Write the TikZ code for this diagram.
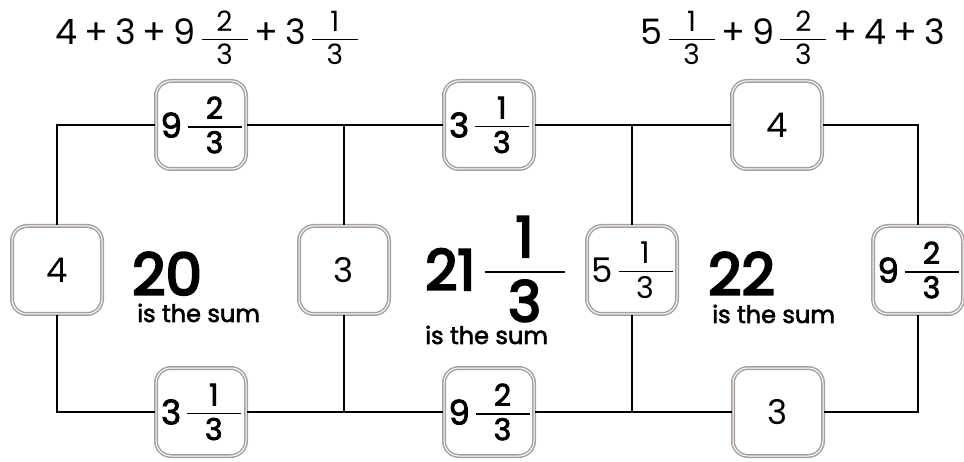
\documentclass[tikz,border=0pt]{standalone}
\usepackage{fontspec}
\setmainfont{Poppins}
\newfontfamily\medfont[FakeBold=2.4]{Poppins}
\newfontfamily\heavyfont[FakeBold=4]{Poppins}
\usepackage{tikz}
\usetikzlibrary{positioning}
\definecolor{frame}{RGB}{168,158,158}

% fraction part: [bar height] bar width, numerator, denominator
\newcommand\fr[4][0.32em]{%
  \makebox[#2]{\raisebox{\dimexpr#1+0.27em}{#3}}\kern-#2%
  \makebox[#2]{\raisebox{\dimexpr#1-0.88em}{#4}}\kern-#2%
  \rule[\dimexpr#1-0.8pt]{#2}{1.6pt}}
\newcommand\pl{\hspace{7pt}+\hspace{7pt}}

\tikzset{
  numbox/.style={draw=frame, double=white, double distance=1pt, line width=1.5pt,
    fill=white, rounded corners=15pt, minimum width=90pt, minimum height=88pt,
    inner sep=0pt, font=\fontsize{34}{36}\selectfont},
  wire/.style={line width=1.5pt},
  sumtxt/.style={font=\fontsize{58}{58}\selectfont\heavyfont, inner sep=0pt},
  lbl/.style={font=\fontsize{24}{26}\selectfont\medfont, inner sep=0pt},
  eqn/.style={font=\fontsize{35}{38}\selectfont, inner sep=0pt}
}

\begin{document}
\begin{tikzpicture}[x=1pt, y=-1pt]
  \useasboundingbox (0,0) rectangle (964,462);

  % sums written above
  \node[eqn, anchor=base west] (eqL) at (55,45)
    {4\pl 3\pl 9\,{\fontsize{28}{30}\selectfont\fr[0.2em]{46pt}{2}{3}}\pl 3\,{\fontsize{28}{30}\selectfont\fr[0.2em]{46pt}{1}{3}}};
  \node[eqn, anchor=base east] (eqR) at (945,45)
    {5\,{\fontsize{28}{30}\selectfont\fr[0.2em]{46pt}{1}{3}}\pl 9\,{\fontsize{28}{30}\selectfont\fr[0.2em]{46pt}{2}{3}}\pl 4\pl 3};

  % corners and junctions
  \coordinate (tl) at (57,125);
  \coordinate (tm1) at (344,125);
  \coordinate (tm2) at (632,125);
  \coordinate (tr) at (918,125);
  \coordinate (bl) at (57,412);
  \coordinate (bm1) at (344,412);
  \coordinate (bm2) at (632,412);
  \coordinate (br) at (918,412);

  % number boxes
  \node[numbox] (t1) at (201,125) {\medfont 9\,{\fontsize{30}{32}\selectfont\fr[0.36em]{54pt}{2}{3}}};
  \node[numbox] (t2) at (489,125) {\medfont 3\,{\fontsize{30}{32}\selectfont\fr[0.36em]{54pt}{1}{3}}};
  \node[numbox] (t3) at (777,125) {4};
  \node[numbox] (ml) at (57,270) {4};
  \node[numbox] (mm) at (344,270) {3};
  \node[numbox] (mr1) at (632,270) {5\,{\fontsize{30}{32}\selectfont\fr[0.36em]{54pt}{1}{3}}};
  \node[numbox] (mr2) at (918,270) {\medfont 9\,{\fontsize{30}{32}\selectfont\fr[0.36em]{54pt}{2}{3}}};
  \node[numbox] (b1) at (201,412) {\medfont 3\,{\fontsize{30}{32}\selectfont\fr[0.36em]{54pt}{1}{3}}};
  \node[numbox] (b2) at (489,412) {\medfont 9\,{\fontsize{30}{32}\selectfont\fr[0.36em]{54pt}{2}{3}}};
  \node[numbox] (b3) at (778,412) {3};

  % wires
  \draw[wire] (t1) -- (tl) -- (ml);
  \draw[wire] (ml) -- (bl) -- (b1);
  \draw[wire] (t1) -- (tm1) -- (t2);
  \draw[wire] (b1) -- (bm1) -- (b2);
  \draw[wire] (tm1) -- (mm) -- (bm1);
  \draw[wire] (t2) -- (tm2) -- (t3);
  \draw[wire] (b2) -- (bm2) -- (b3);
  \draw[wire] (tm2) -- (mr1) -- (bm2);
  \draw[wire] (t3) -- (tr) -- (mr2);
  \draw[wire] (b3) -- (br) -- (mr2);

  % the three sums
  \node[sumtxt, anchor=base west] (s20) at (132,295) {20};
  \node[lbl, anchor=base west] (l20) at (137,322) {is the sum};
  \node[sumtxt, font=\fontsize{56}{56}\selectfont\heavyfont, anchor=base west] (s21) at (425,290)
    {21\,\fr{80pt}{1}{3}};
  \node[lbl, anchor=base west] (l21) at (425,344) {is the sum};
  \node[sumtxt, anchor=base west] (s22) at (708,295) {22};
  \node[lbl, anchor=base west] (l22) at (712,323) {is the sum};
\end{tikzpicture}
\end{document}
